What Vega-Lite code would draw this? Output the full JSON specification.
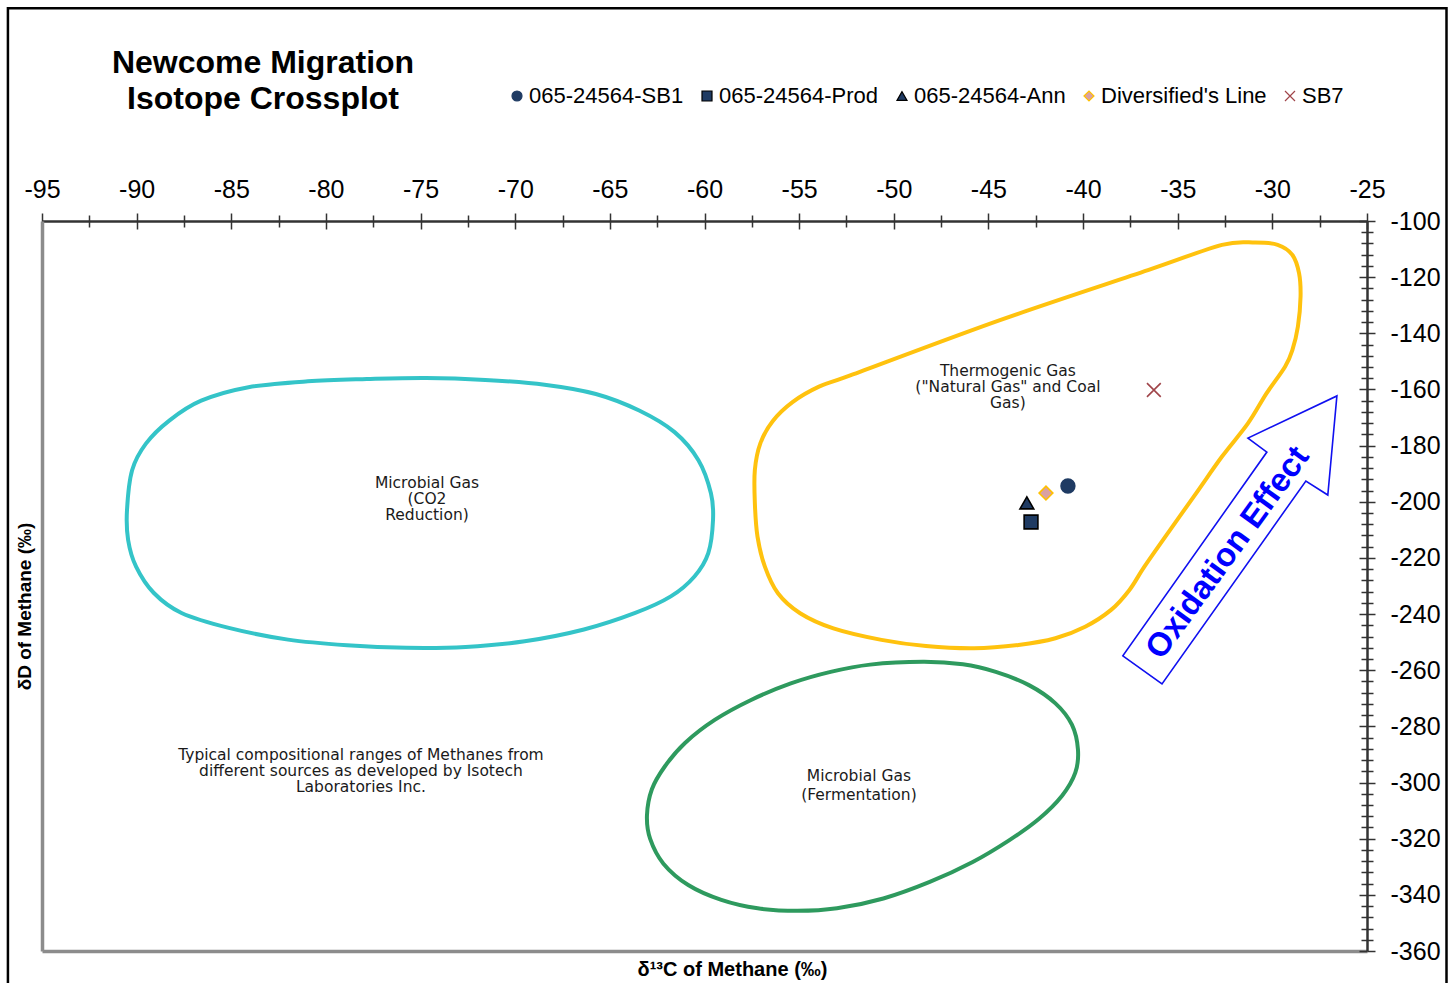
{
  "$schema": "https://vega.github.io/schema/vega-lite/v6.json",
  "width": 1325,
  "height": 730,
  "autosize": {"type": "none"},
  "padding": {"left": 42, "top": 221, "right": 88, "bottom": 32},
  "background": "white",
  "config": {"view": {"stroke": null}, "font": "Liberation Sans"},
  "title": {
    "text": ["Newcome Migration", "Isotope Crossplot"],
    "anchor": "start",
    "align": "center",
    "dx": 221,
    "offset": -109,
    "font": "Liberation Sans",
    "fontSize": 32,
    "fontWeight": "bold",
    "lineHeight": 36,
    "color": "#000000",
    "frame": "group"
  },
  "datasets": {
    "frame": [{"x": -96.8, "x2": -20.8, "y": -24.2, "y2": -374}],
    "cyan": [
      {"i": 0, "x": -90.51, "y": -203.0}, {"i": 1, "x": -90.24, "y": -188.8}, {"i": 2, "x": -89.51, "y": -179.3},
      {"i": 3, "x": -88.26, "y": -171.0}, {"i": 4, "x": -86.59, "y": -164.0}, {"i": 5, "x": -84.09, "y": -159.2},
      {"i": 6, "x": -80.96, "y": -157.1}, {"i": 7, "x": -77.84, "y": -156.3}, {"i": 8, "x": -74.71, "y": -155.9},
      {"i": 9, "x": -71.58, "y": -156.6}, {"i": 10, "x": -68.45, "y": -158.3}, {"i": 11, "x": -65.74, "y": -161.6},
      {"i": 12, "x": -63.45, "y": -167.5}, {"i": 13, "x": -61.58, "y": -175.2}, {"i": 14, "x": -60.32, "y": -185.2},
      {"i": 15, "x": -59.66, "y": -197.0}, {"i": 16, "x": -59.55, "y": -206.5}, {"i": 17, "x": -59.80, "y": -218.3},
      {"i": 18, "x": -60.53, "y": -226.6}, {"i": 19, "x": -61.78, "y": -233.7}, {"i": 20, "x": -63.66, "y": -239.6},
      {"i": 21, "x": -66.37, "y": -245.5}, {"i": 22, "x": -69.50, "y": -249.7}, {"i": 23, "x": -72.62, "y": -251.7},
      {"i": 24, "x": -75.75, "y": -252.0}, {"i": 25, "x": -78.88, "y": -251.1}, {"i": 26, "x": -82.00, "y": -249.1},
      {"i": 27, "x": -85.13, "y": -244.9}, {"i": 28, "x": -87.63, "y": -239.6}, {"i": 29, "x": -89.09, "y": -232.5},
      {"i": 30, "x": -90.03, "y": -223.1}, {"i": 31, "x": -90.45, "y": -213.6}
    ],
    "yellow": [
      {"i": 0, "x": -30.90, "y": -107.7}, {"i": 1, "x": -29.72, "y": -108.5}, {"i": 2, "x": -28.94, "y": -112.1},
      {"i": 3, "x": -28.59, "y": -118.6}, {"i": 4, "x": -28.51, "y": -126.9}, {"i": 5, "x": -28.65, "y": -137.6},
      {"i": 6, "x": -28.94, "y": -145.9}, {"i": 7, "x": -29.33, "y": -151.9}, {"i": 8, "x": -30.31, "y": -161.4},
      {"i": 9, "x": -31.29, "y": -172.1}, {"i": 10, "x": -32.66, "y": -183.9}, {"i": 11, "x": -34.03, "y": -197.0},
      {"i": 12, "x": -35.40, "y": -210.0}, {"i": 13, "x": -36.76, "y": -223.1}, {"i": 14, "x": -37.55, "y": -231.4},
      {"i": 15, "x": -38.52, "y": -238.5}, {"i": 16, "x": -39.89, "y": -244.5}, {"i": 17, "x": -41.46, "y": -248.6},
      {"i": 18, "x": -43.41, "y": -251.0}, {"i": 19, "x": -45.76, "y": -252.2}, {"i": 20, "x": -48.30, "y": -251.4},
      {"i": 21, "x": -50.65, "y": -249.2}, {"i": 22, "x": -53.19, "y": -245.1}, {"i": 23, "x": -54.95, "y": -239.7},
      {"i": 24, "x": -56.12, "y": -232.6}, {"i": 25, "x": -56.81, "y": -223.1}, {"i": 26, "x": -57.20, "y": -212.4},
      {"i": 27, "x": -57.34, "y": -200.5}, {"i": 28, "x": -57.34, "y": -188.7}, {"i": 29, "x": -57.05, "y": -179.2},
      {"i": 30, "x": -56.40, "y": -171.3}, {"i": 31, "x": -55.35, "y": -164.5}, {"i": 32, "x": -53.95, "y": -159.0},
      {"i": 33, "x": -52.30, "y": -155.0}, {"i": 34, "x": -44.39, "y": -135.3}, {"i": 35, "x": -36.57, "y": -117.5},
      {"i": 36, "x": -32.66, "y": -108.5}
    ],
    "green": [
      {"i": 0, "x": -48.45, "y": -257.0}, {"i": 1, "x": -46.35, "y": -257.9}, {"i": 2, "x": -44.61, "y": -260.6},
      {"i": 3, "x": -42.86, "y": -265.3}, {"i": 4, "x": -41.46, "y": -271.8}, {"i": 5, "x": -40.59, "y": -279.4},
      {"i": 6, "x": -40.27, "y": -288.3}, {"i": 7, "x": -40.41, "y": -296.5}, {"i": 8, "x": -41.11, "y": -304.7},
      {"i": 9, "x": -42.34, "y": -313.0}, {"i": 10, "x": -43.91, "y": -320.6}, {"i": 11, "x": -45.83, "y": -328.3},
      {"i": 12, "x": -48.10, "y": -335.4}, {"i": 13, "x": -50.55, "y": -341.3}, {"i": 14, "x": -53.00, "y": -344.8},
      {"i": 15, "x": -55.09, "y": -345.7}, {"i": 16, "x": -57.19, "y": -344.8}, {"i": 17, "x": -59.11, "y": -341.8},
      {"i": 18, "x": -60.86, "y": -336.5}, {"i": 19, "x": -62.17, "y": -328.9}, {"i": 20, "x": -62.87, "y": -320.1},
      {"i": 21, "x": -63.04, "y": -311.8}, {"i": 22, "x": -62.78, "y": -302.4}, {"i": 23, "x": -62.08, "y": -294.1},
      {"i": 24, "x": -61.03, "y": -285.9}, {"i": 25, "x": -59.46, "y": -277.7}, {"i": 26, "x": -57.54, "y": -270.6},
      {"i": 27, "x": -55.44, "y": -264.7}, {"i": 28, "x": -53.34, "y": -260.6}, {"i": 29, "x": -51.25, "y": -258.0}
    ],
    "arrow": [
      {"i": 0, "x": -37.9, "y": -254.9}, {"i": 1, "x": -35.83, "y": -264.9}, {"i": 2, "x": -28.23, "y": -192.6},
      {"i": 3, "x": -27.07, "y": -197.6}, {"i": 4, "x": -26.59, "y": -162.3}, {"i": 5, "x": -31.29, "y": -177.3},
      {"i": 6, "x": -30.29, "y": -182.3}
    ],
    "notes": [
      {"x": -43.97, "y": -153.4, "label": "Thermogenic Gas\n(\"Natural Gas\" and Coal\nGas)"},
      {"x": -74.66, "y": -193.3, "label": "Microbial Gas\n(CO2\nReduction)"},
      {"x": -78.15, "y": -290.2, "label": "Typical compositional ranges of Methanes from\ndifferent sources as developed by Isotech\nLaboratories Inc."}
    ],
    "notes2": [
      {"x": -51.84, "y": -297.6, "label": "Microbial Gas\n(Fermentation)"}
    ],
    "arrowText": [{"x": -32.35, "y": -218.2, "label": "Oxidation Effect"}],
    "samples": [
      {"series": "065-24564-SB1", "x": -40.8, "y": -194.4},
      {"series": "065-24564-Prod", "x": -42.75, "y": -207.2},
      {"series": "065-24564-Ann", "x": -42.97, "y": -200.4},
      {"series": "Diversified's Line", "x": -41.96, "y": -196.9},
      {"series": "SB7", "x": -36.26, "y": -160.2}
    ]
  },
  "layer": [
    {
      "data": {"name": "frame"},
      "mark": {"type": "rect", "fill": "transparent", "stroke": "#000000", "strokeWidth": 2.5},
      "encoding": {
        "x": {"field": "x", "type": "quantitative", "scale": {"domain": [-95, -25], "nice": false, "zero": false},
          "axis": {"orient": "bottom", "labels": false, "ticks": false, "grid": false, "domainColor": "#8c8c8c", "domainWidth": 3.5,
            "title": "δ¹³C of Methane (‰)", "titleFont": "Liberation Sans", "titleFontSize": 20, "titleFontWeight": "bold", "titleColor": "#000000", "titlePadding": 8, "titleX": 690}},
        "x2": {"field": "x2"},
        "y": {"field": "y", "type": "quantitative", "scale": {"domain": [-360, -100], "nice": false, "zero": false},
          "axis": {"orient": "left", "labels": false, "ticks": false, "grid": false, "domainColor": "#8c8c8c", "domainWidth": 3.5,
            "title": "δD of Methane (‰)", "titleFont": "Liberation Sans", "titleFontSize": 19, "titleFontWeight": "bold", "titleColor": "#000000", "titlePadding": 8, "titleY": 385}},
        "y2": {"field": "y2"}
      }
    },
    {
      "data": {"name": "cyan"},
      "mark": {"type": "line", "stroke": "#34C4C8", "strokeWidth": 4, "interpolate": "cardinal-closed"},
      "encoding": {
        "x": {"field": "x", "type": "quantitative", "scale": {"domain": [-95, -25], "nice": false, "zero": false},
          "axis": {"orient": "top", "values": [-95, -90, -85, -80, -75, -70, -65, -60, -55, -50, -45, -40, -35, -30, -25],
            "labelExpr": "'' + datum.value", "labelFont": "Liberation Sans", "labelFontSize": 25, "labelColor": "#000000", "labelPadding": 11,
            "labelOverlap": false, "labelFlush": false, "domainColor": "#333333", "domainWidth": 2.5, "tickColor": "#333333", "tickWidth": 1.5, "tickSize": 8, "grid": false, "title": null}},
        "y": {"field": "y", "type": "quantitative", "scale": {"domain": [-360, -100], "nice": false, "zero": false},
          "axis": {"orient": "right", "values": [-100, -120, -140, -160, -180, -200, -220, -240, -260, -280, -300, -320, -340, -360],
            "labelExpr": "'' + datum.value", "labelFont": "Liberation Sans", "labelFontSize": 25, "labelColor": "#000000", "labelPadding": 15,
            "labelOverlap": false, "labelFlush": false, "domainColor": "#333333", "domainWidth": 2.5, "tickColor": "#333333", "tickWidth": 1.5, "tickSize": 8, "grid": false, "title": null}},
        "order": {"field": "i", "type": "quantitative"}
      }
    },
    {
      "data": {"name": "yellow"},
      "mark": {"type": "line", "stroke": "#FFC20E", "strokeWidth": 4, "interpolate": "cardinal-closed"},
      "encoding": {
        "x": {"field": "x", "type": "quantitative", "scale": {"domain": [-95, -25], "nice": false, "zero": false},
          "axis": {"orient": "top", "values": [-95, -90, -85, -80, -75, -70, -65, -60, -55, -50, -45, -40, -35, -30, -25],
            "labels": false, "domain": false, "tickColor": "#333333", "tickWidth": 1.5, "tickSize": -8, "grid": false, "title": null}},
        "y": {"field": "y", "type": "quantitative", "scale": {"domain": [-360, -100], "nice": false, "zero": false},
          "axis": {"orient": "right", "values": [-100, -120, -140, -160, -180, -200, -220, -240, -260, -280, -300, -320, -340, -360],
            "labels": false, "domain": false, "tickColor": "#333333", "tickWidth": 1.5, "tickSize": -8, "grid": false, "title": null}},
        "order": {"field": "i", "type": "quantitative"}
      }
    },
    {
      "data": {"name": "green"},
      "mark": {"type": "line", "stroke": "#2E9A5E", "strokeWidth": 4, "interpolate": "cardinal-closed"},
      "encoding": {
        "x": {"field": "x", "type": "quantitative", "scale": {"domain": [-95, -25], "nice": false, "zero": false},
          "axis": {"orient": "top", "values": [-92.5, -87.5, -82.5, -77.5, -72.5, -67.5, -62.5, -57.5, -52.5, -47.5, -42.5, -37.5, -32.5, -27.5],
            "labels": false, "domain": false, "tickColor": "#333333", "tickWidth": 1.5, "tickSize": 6, "grid": false, "title": null}},
        "y": {"field": "y", "type": "quantitative", "scale": {"domain": [-360, -100], "nice": false, "zero": false},
          "axis": {"orient": "right", "values": [-104, -108, -112, -116, -124, -128, -132, -136, -144, -148, -152, -156, -164, -168, -172, -176, -184, -188, -192, -196, -204, -208, -212, -216, -224, -228, -232, -236, -244, -248, -252, -256, -264, -268, -272, -276, -284, -288, -292, -296, -304, -308, -312, -316, -324, -328, -332, -336, -344, -348, -352, -356],
            "labels": false, "domain": false, "tickColor": "#333333", "tickWidth": 1.5, "tickSize": 6, "grid": false, "title": null}},
        "order": {"field": "i", "type": "quantitative"}
      }
    },
    {
      "data": {"name": "arrow"},
      "mark": {"type": "line", "stroke": "#1010F0", "strokeWidth": 1.6, "interpolate": "linear-closed"},
      "encoding": {
        "x": {"field": "x", "type": "quantitative", "scale": {"domain": [-95, -25], "nice": false, "zero": false},
          "axis": {"orient": "top", "values": [-92.5, -87.5, -82.5, -77.5, -72.5, -67.5, -62.5, -57.5, -52.5, -47.5, -42.5, -37.5, -32.5, -27.5],
            "labels": false, "domain": false, "tickColor": "#333333", "tickWidth": 1.5, "tickSize": -6, "grid": false, "title": null}},
        "y": {"field": "y", "type": "quantitative", "scale": {"domain": [-360, -100], "nice": false, "zero": false},
          "axis": {"orient": "right", "values": [-104, -108, -112, -116, -124, -128, -132, -136, -144, -148, -152, -156, -164, -168, -172, -176, -184, -188, -192, -196, -204, -208, -212, -216, -224, -228, -232, -236, -244, -248, -252, -256, -264, -268, -272, -276, -284, -288, -292, -296, -304, -308, -312, -316, -324, -328, -332, -336, -344, -348, -352, -356],
            "labels": false, "domain": false, "tickColor": "#333333", "tickWidth": 1.5, "tickSize": -6, "grid": false, "title": null}},
        "order": {"field": "i", "type": "quantitative"}
      }
    },
    {
      "data": {"name": "notes"},
      "mark": {"type": "text", "font": "DejaVu Sans", "fontSize": 15.5, "lineHeight": 16, "lineBreak": "\n", "align": "center", "baseline": "middle", "fill": "#1a1a1a"},
      "encoding": {
        "x": {"field": "x", "type": "quantitative", "scale": {"domain": [-95, -25], "nice": false, "zero": false}, "axis": null},
        "y": {"field": "y", "type": "quantitative", "scale": {"domain": [-360, -100], "nice": false, "zero": false}, "axis": null},
        "text": {"field": "label", "type": "nominal"}
      }
    },
    {
      "data": {"name": "notes2"},
      "mark": {"type": "text", "font": "DejaVu Sans", "fontSize": 15.5, "lineHeight": 19, "lineBreak": "\n", "align": "center", "baseline": "middle", "fill": "#1a1a1a"},
      "encoding": {
        "x": {"field": "x", "type": "quantitative", "scale": {"domain": [-95, -25], "nice": false, "zero": false}, "axis": null},
        "y": {"field": "y", "type": "quantitative", "scale": {"domain": [-360, -100], "nice": false, "zero": false}, "axis": null},
        "text": {"field": "label", "type": "nominal"}
      }
    },
    {
      "data": {"name": "arrowText"},
      "mark": {"type": "text", "font": "Liberation Sans", "fontSize": 33, "fontWeight": "bold", "angle": 306, "align": "center", "baseline": "middle", "fill": "#0000FF"},
      "encoding": {
        "x": {"field": "x", "type": "quantitative", "scale": {"domain": [-95, -25], "nice": false, "zero": false}, "axis": null},
        "y": {"field": "y", "type": "quantitative", "scale": {"domain": [-360, -100], "nice": false, "zero": false}, "axis": null},
        "text": {"field": "label", "type": "nominal"}
      }
    },
    {
      "data": {"name": "samples"},
      "mark": {"type": "point", "filled": true, "size": 190, "strokeWidth": 1.6, "opacity": 1},
      "encoding": {
        "x": {"field": "x", "type": "quantitative", "scale": {"domain": [-95, -25], "nice": false, "zero": false}, "axis": null},
        "y": {"field": "y", "type": "quantitative", "scale": {"domain": [-360, -100], "nice": false, "zero": false}, "axis": null},
        "fill": {"field": "series", "type": "nominal",
          "scale": {"domain": ["065-24564-SB1", "065-24564-Prod", "065-24564-Ann", "Diversified's Line", "SB7"], "range": ["#1F3B63", "#1F3B63", "#1F3B63", "#D9A1A3", "#A0454A"]},
          "legend": {"orient": "none", "legendX": 464, "legendY": -136, "direction": "horizontal", "title": null, "labelFont": "Liberation Sans", "labelFontSize": 22, "labelColor": "#000000", "labelLimit": 400, "symbolSize": 100, "labelOffset": 1, "columnPadding": 12, "symbolStrokeWidth": 1.2, "padding": 0}},
        "shape": {"field": "series", "type": "nominal",
          "scale": {"domain": ["065-24564-SB1", "065-24564-Prod", "065-24564-Ann", "Diversified's Line", "SB7"], "range": ["circle", "square", "triangle-up", "diamond", "M-1,-1L1,1M1,-1L-1,1"]},
          "legend": {"orient": "none", "legendX": 464, "legendY": -136, "direction": "horizontal", "title": null, "labelFont": "Liberation Sans", "labelFontSize": 22, "labelColor": "#000000", "labelLimit": 400, "symbolSize": 100, "labelOffset": 1, "columnPadding": 12, "symbolStrokeWidth": 1.2, "padding": 0}},
        "stroke": {"field": "series", "type": "nominal",
          "scale": {"domain": ["065-24564-SB1", "065-24564-Prod", "065-24564-Ann", "Diversified's Line", "SB7"], "range": ["#1F3B63", "#000000", "#000000", "#FFC000", "#A0454A"]},
          "legend": {"orient": "none", "legendX": 464, "legendY": -136, "direction": "horizontal", "title": null, "labelFont": "Liberation Sans", "labelFontSize": 22, "labelColor": "#000000", "labelLimit": 400, "symbolSize": 100, "labelOffset": 1, "columnPadding": 12, "symbolStrokeWidth": 1.2, "padding": 0}}
      }
    }
  ],
  "resolve": {"axis": {"x": "independent", "y": "independent"}}
}
